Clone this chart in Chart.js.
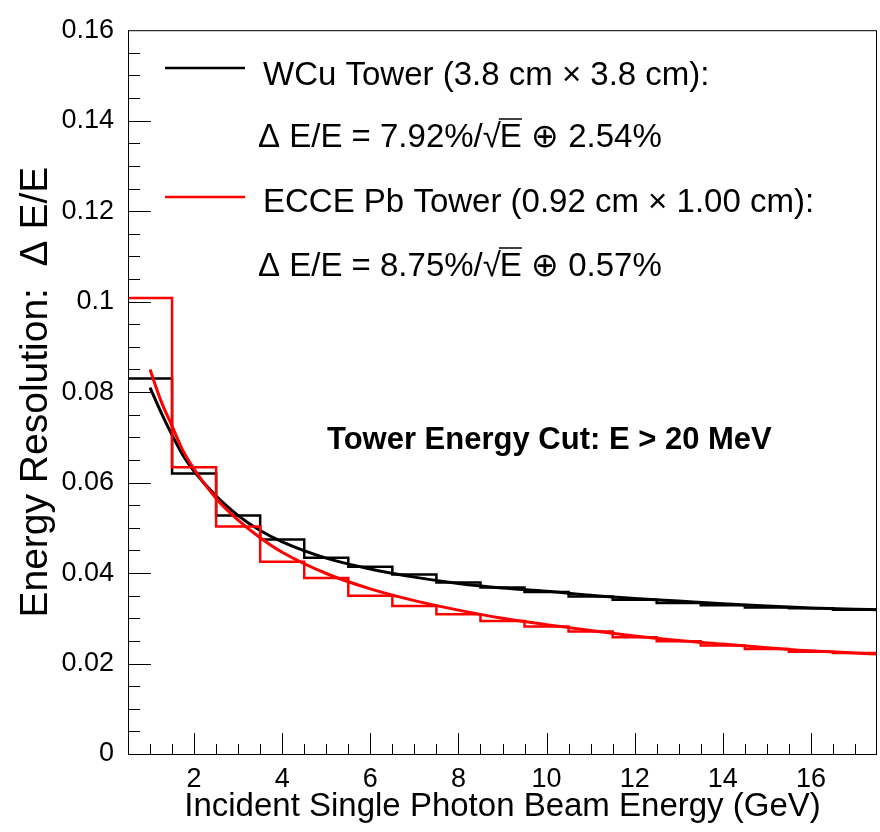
<!DOCTYPE html>
<html>
<head>
<meta charset="utf-8">
<script src="https://cdn.jsdelivr.net/npm/chart.js@4"></script>
<style>
  html, body { margin: 0; padding: 0; background: #fff; }
  #wrap { width: 880px; height: 832px; }
</style>
</head>
<body>
<div id="wrap"><canvas id="myChart" width="880" height="832"></canvas></div>
<script>
// bin centres (GeV), bin width 1
const binCenters = [1, 2, 3, 4, 5, 6, 7, 8, 9, 10, 11, 12, 13, 14, 15, 16, 17];
const wcuHist = [0.0830, 0.0620, 0.0527, 0.0474, 0.0434, 0.0414, 0.0397, 0.0379, 0.0368, 0.0358, 0.0348, 0.0341, 0.0334, 0.0329, 0.0324, 0.0322, 0.0319];
const pbHist  = [0.1008, 0.0634, 0.0503, 0.0425, 0.0389, 0.0350, 0.0327, 0.0309, 0.0294, 0.0282, 0.0271, 0.0258, 0.0249, 0.0240, 0.0232, 0.0226, 0.0223];

// fit curves
const fitE   = [1, 1.25, 1.5, 1.75, 2, 2.5, 3, 3.5, 4, 5, 6, 7, 8, 9, 10, 11, 12, 13, 14, 15, 16, 17, 17.5];
const wcuFit = [0.081, 0.0755, 0.0705, 0.066, 0.0625, 0.057, 0.0527, 0.0494, 0.0469, 0.0433, 0.0409, 0.0391, 0.0377, 0.0367, 0.0360, 0.0351, 0.0344, 0.0338, 0.0332, 0.0327, 0.0323, 0.0320, 0.0319];
const pbFit  = [0.085, 0.078, 0.0725, 0.067, 0.063, 0.0565, 0.0517, 0.0478, 0.0446, 0.0399, 0.0365, 0.0339, 0.0318, 0.0300, 0.0286, 0.0273, 0.0261, 0.0251, 0.0243, 0.0235, 0.0228, 0.0223, 0.0221];

const xTicks = [2, 4, 6, 8, 10, 12, 14, 16];
const yTicks = [0, 0.02, 0.04, 0.06, 0.08, 0.1, 0.12, 0.14, 0.16];

const FONT = '"Liberation Sans", Arial, Helvetica, sans-serif';

// histogram outline: point i at the upper edge of bin i-1, held until bin i
function histPoints(vals) {
  const pts = [{ x: binCenters[0] - 0.5, y: vals[0] }];
  binCenters.forEach((c, i) => pts.push({ x: c + 0.5, y: vals[i] }));
  return pts;
}
const curvePoints = (ys) => fitE.map((e, i) => ({ x: e, y: ys[i] }));

// frame + inward ticks like ROOT
const frameTicks = {
  id: 'frameTicks',
  afterDraw(chart) {
    const { ctx, chartArea: a, scales: { x, y } } = chart;
    ctx.save();
    ctx.strokeStyle = '#000';
    ctx.lineWidth = 1;
    ctx.strokeRect(a.left + 0.5, a.top + 0.5, a.right - a.left - 1, a.bottom - a.top);
    ctx.beginPath();
    for (let v = 1; v <= 17.001; v += 0.5) {
      const px = Math.round(x.getPixelForValue(v)) + 0.5;
      const len = (Math.abs(v % 2) < 1e-6) ? 21 : 10;
      ctx.moveTo(px, a.bottom);
      ctx.lineTo(px, a.bottom - len);
    }
    for (let i = 1; i < 32; i++) {
      const v = i * 0.005;
      const py = Math.round(y.getPixelForValue(v)) + 0.5;
      const len = (i % 4 === 0) ? 23 : 12;
      ctx.moveTo(a.left, py);
      ctx.lineTo(a.left + len, py);
    }
    ctx.stroke();
    ctx.restore();
  }
};

// legend block and annotation
const texts = {
  id: 'texts',
  afterDraw(chart) {
    const ctx = chart.ctx;
    ctx.save();
    ctx.fillStyle = '#000';
    ctx.textBaseline = 'alphabetic';
    ctx.font = '33px ' + FONT;

    ctx.lineWidth = 2.5;
    ctx.strokeStyle = '#000';
    ctx.beginPath(); ctx.moveTo(165, 68); ctx.lineTo(245, 68); ctx.stroke();
    ctx.strokeStyle = '#ff0000';
    ctx.beginPath(); ctx.moveTo(165, 197); ctx.lineTo(245, 197); ctx.stroke();

    ctx.fillText('WCu Tower (3.8 cm \u00d7 3.8 cm):', 263, 85);
    ctx.fillText('ECCE Pb Tower (0.92 cm \u00d7 1.00 cm):', 263, 212);

    function formula(a, b, yb) {
      let x0 = 258;
      const pre = '\u0394 E/E = ' + a + '%/';
      ctx.fillText(pre, x0, yb);
      x0 += ctx.measureText(pre).width;
      ctx.fillText('\u221a', x0, yb);
      x0 += ctx.measureText('\u221a').width - 1;
      ctx.fillText('E', x0, yb);
      const wE = ctx.measureText('E').width;
      ctx.lineWidth = 1.5;
      ctx.strokeStyle = '#000';
      ctx.beginPath(); ctx.moveTo(x0 - 1, yb - 28); ctx.lineTo(x0 + wE, yb - 28); ctx.stroke();
      x0 += wE;
      ctx.fillText(' \u2295 ' + b + '%', x0, yb);
    }
    formula('7.92', '2.54', 147);
    formula('8.75', '0.57', 276);

    ctx.font = 'bold 31px ' + FONT;
    ctx.fillText('Tower Energy Cut: E > 20 MeV', 327, 449);
    ctx.restore();
  }
};

new Chart(document.getElementById('myChart'), {
  type: 'line',
  data: {
    datasets: [
      { label: 'Pb fit', data: curvePoints(pbFit), borderColor: '#ff0000', borderWidth: 3, pointRadius: 0, cubicInterpolationMode: 'monotone', fill: false },
      { label: 'Pb hist', data: histPoints(pbHist), borderColor: '#ff0000', borderWidth: 2.5, pointRadius: 0, stepped: 'after', fill: false },
      { label: 'WCu fit', data: curvePoints(wcuFit), borderColor: '#000000', borderWidth: 3, pointRadius: 0, cubicInterpolationMode: 'monotone', fill: false },
      { label: 'WCu hist', data: histPoints(wcuHist), borderColor: '#000000', borderWidth: 2.5, pointRadius: 0, stepped: 'after', fill: false },
    ],
  },
  options: {
    responsive: false,
    animation: false,
    devicePixelRatio: 1,
    layout: { padding: { top: 19, right: 3, bottom: 0, left: 0 } },
    plugins: { legend: { display: false }, tooltip: { enabled: false } },
    scales: {
      x: {
        type: 'linear',
        min: 0.5,
        max: 17.5,
        afterBuildTicks: (s) => { s.ticks = xTicks.map(v => ({ value: v })); },
        afterFit: (s) => { s.height = 78; },
        grid: { display: false, drawTicks: false },
        border: { display: false },
        ticks: { color: '#000', font: { family: FONT, size: 27 }, padding: 9, maxRotation: 0, autoSkip: false },
        title: {
          display: true,
          text: 'Incident Single Photon Beam Energy (GeV)',
          color: '#000',
          font: { family: FONT, size: 33 },
          padding: { top: 0, bottom: 5 },
        },
      },
      y: {
        type: 'linear',
        min: 0,
        max: 0.16,
        afterBuildTicks: (s) => { s.ticks = yTicks.map(v => ({ value: v })); },
        afterFit: (s) => { s.width = 128; },
        grid: { display: false, drawTicks: false },
        border: { display: false },
        ticks: {
          color: '#000',
          font: { family: FONT, size: 27 },
          padding: 14,
          autoSkip: false,
          callback: (v) => (v === 0 ? '0' : String(+v.toFixed(2))),
        },
        title: {
          display: true,
          text: 'Energy Resolution:  \u0394 E/E',
          color: '#000',
          font: { family: FONT, size: 39 },
          padding: { top: 13, bottom: 0 },
        },
      },
    },
  },
  plugins: [frameTicks, texts],
});
</script>
</body>
</html>
